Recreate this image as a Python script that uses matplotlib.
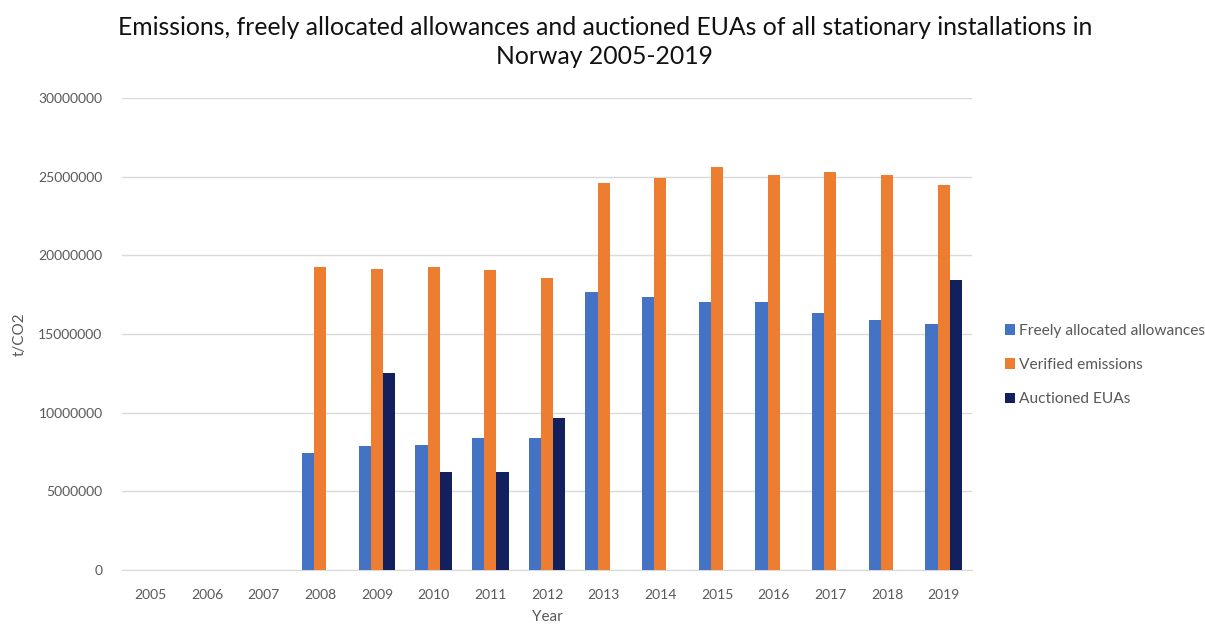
import numpy as np
import matplotlib.pyplot as plt

years = [str(y) for y in range(2005, 2020)]
free_alloc = [0, 0, 0, 7460000, 7880000, 7970000, 8370000, 8370000,
              17650000, 17330000, 17020000, 17020000, 16320000, 15910000, 15620000]
verified = [0, 0, 0, 19240000, 19150000, 19240000, 19050000, 18540000,
            24600000, 24900000, 25600000, 25100000, 25300000, 25100000, 24490000]
auctioned = [0, 0, 0, 0, 12500000, 6250000, 6250000, 9680000,
             0, 0, 0, 0, 0, 0, 18440000]

series = [("Freely allocated allowances", free_alloc, "#4472C4"),
          ("Verified emissions", verified, "#ED7D31"),
          ("Auctioned EUAs", auctioned, "#12215E")]

plt.rcParams['font.family'] = ['Lato', 'DejaVu Sans']

fig = plt.figure(figsize=(12.05, 6.26), dpi=100)
ax = fig.add_axes([122 / 1205, 56 / 626, 850 / 1205, 472 / 626])

x = np.arange(len(years))
w = 0.217
for i, (name, vals, col) in enumerate(series):
    ax.bar(x + (i - 1) * w, vals, w, color=col, label=name, zorder=3)

ax.set_xlim(-0.5, len(years) - 0.5)
ax.set_ylim(0, 30000000)
ax.set_yticks(np.arange(0, 30000001, 5000000))
ax.set_yticklabels([str(v) for v in range(0, 30000001, 5000000)])
ax.set_xticks(x)
ax.set_xticklabels(years)
ax.grid(axis='y', color='#D9D9D9', linewidth=1, zorder=0)
for s in ['top', 'right', 'left']:
    ax.spines[s].set_visible(False)
ax.spines['bottom'].set_color('#D9D9D9')
ax.tick_params(axis='both', length=0, labelsize=10, colors='#595959', pad=14)
ax.tick_params(axis='y', pad=14)

ax.set_xlabel("Year", fontsize=11, color='#595959', labelpad=6)
ax.set_ylabel("t/CO2", fontsize=11, color='#595959', labelpad=8)

fig.text(0.502, 0.975, "Emissions, freely allocated allowances and auctioned EUAs of all stationary installations in\nNorway 2005-2019",
         ha='center', va='top', fontsize=17.8, color='#111111', linespacing=1.35)

ax.legend(loc='center left', bbox_to_anchor=(1.022, 0.434), frameon=False,
          fontsize=11.2, labelcolor='#595959', handlelength=0.65, handleheight=0.65,
          handletextpad=0.3, labelspacing=1.3)

plt.savefig("out.png", dpi=100)
